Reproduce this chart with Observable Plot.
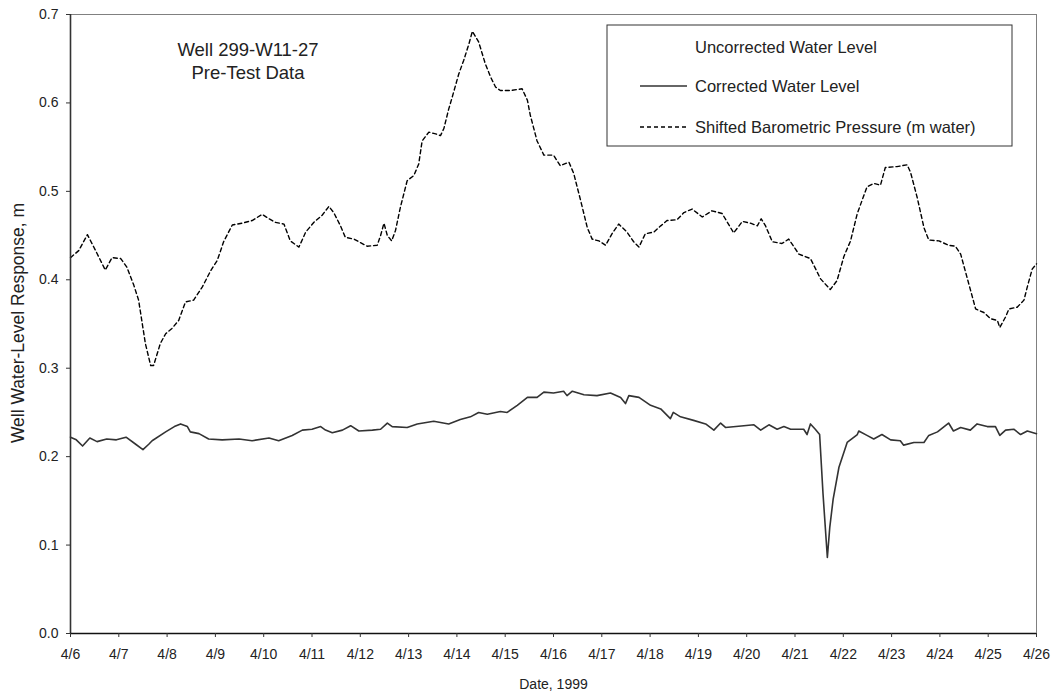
<!DOCTYPE html>
<html>
<head>
<meta charset="utf-8">
<script src="https://cdn.jsdelivr.net/npm/d3@7"></script>
<script src="https://cdn.jsdelivr.net/npm/@observablehq/plot@0.6"></script>
<style>
  html, body { margin: 0; padding: 0; background: #fff; }
  #chart { width: 1055px; height: 696px; }
</style>
</head>
<body>
<div id="chart"></div>
<script>
// ---- data (days since 4/6/1999, metres) ----
const xTickLabels = ["4/6","4/7","4/8","4/9","4/10","4/11","4/12","4/13","4/14","4/15","4/16","4/17","4/18","4/19","4/20","4/21","4/22","4/23","4/24","4/25","4/26"];
const yTicks = [0, 0.1, 0.2, 0.3, 0.4, 0.5, 0.6, 0.7];

const seriesNames = ["Uncorrected Water Level", "Corrected Water Level", "Shifted Barometric Pressure (m water)"];

const baroDays = [0,0.17,0.35,0.52,0.72,0.86,1.04,1.17,1.31,1.41,1.55,1.66,1.72,1.86,1.97,2.1,2.24,2.38,2.55,2.73,2.9,3.04,3.17,3.35,3.55,3.76,3.97,4.11,4.24,4.42,4.55,4.73,4.87,5.04,5.21,5.35,5.45,5.59,5.69,5.87,5.97,6.14,6.35,6.42,6.49,6.56,6.65,6.73,6.83,6.97,7.11,7.21,7.28,7.42,7.56,7.66,7.73,7.83,7.9,8.04,8.14,8.25,8.32,8.45,8.59,8.7,8.8,8.9,9.11,9.35,9.46,9.52,9.66,9.8,10.0,10.14,10.32,10.42,10.56,10.7,10.8,10.94,11.08,11.21,11.35,11.52,11.66,11.77,11.9,12.08,12.22,12.35,12.56,12.7,12.87,13.08,13.28,13.49,13.6,13.73,13.91,14.08,14.22,14.3,14.39,14.53,14.73,14.87,15.08,15.32,15.53,15.73,15.87,16.01,16.15,16.29,16.49,16.63,16.77,16.87,17.11,17.32,17.39,17.53,17.67,17.77,17.98,18.18,18.32,18.43,18.56,18.74,18.91,19.05,19.19,19.24,19.36,19.43,19.6,19.74,19.81,19.91,20.0];
const baroValues = [0.425,0.433,0.451,0.433,0.411,0.425,0.424,0.414,0.394,0.377,0.328,0.303,0.303,0.328,0.339,0.345,0.354,0.375,0.377,0.392,0.410,0.422,0.443,0.462,0.464,0.467,0.474,0.469,0.465,0.463,0.444,0.437,0.454,0.465,0.473,0.483,0.476,0.461,0.448,0.446,0.443,0.438,0.439,0.450,0.464,0.450,0.444,0.456,0.482,0.512,0.518,0.531,0.557,0.567,0.565,0.563,0.571,0.593,0.606,0.633,0.648,0.667,0.681,0.669,0.644,0.629,0.618,0.614,0.614,0.616,0.603,0.586,0.557,0.541,0.541,0.529,0.533,0.520,0.490,0.459,0.446,0.444,0.439,0.452,0.463,0.454,0.443,0.437,0.452,0.454,0.461,0.467,0.468,0.476,0.480,0.471,0.478,0.475,0.465,0.453,0.466,0.464,0.461,0.469,0.461,0.443,0.441,0.446,0.429,0.424,0.401,0.389,0.399,0.426,0.444,0.475,0.505,0.509,0.507,0.527,0.528,0.530,0.522,0.493,0.459,0.445,0.444,0.439,0.438,0.429,0.403,0.367,0.363,0.356,0.354,0.346,0.358,0.367,0.369,0.377,0.392,0.412,0.418];

const corrDays = [0,0.12,0.25,0.4,0.55,0.75,0.95,1.15,1.35,1.5,1.62,1.69,1.97,2.15,2.28,2.42,2.48,2.66,2.86,3.14,3.49,3.76,4.11,4.31,4.59,4.8,5.0,5.18,5.28,5.42,5.63,5.8,5.97,6.25,6.42,6.56,6.66,6.97,7.18,7.52,7.83,8.07,8.28,8.45,8.63,8.9,9.04,9.25,9.46,9.66,9.8,10.0,10.21,10.28,10.39,10.63,10.9,11.18,11.39,11.49,11.56,11.77,12.01,12.22,12.42,12.48,12.63,12.9,13.15,13.32,13.46,13.56,13.94,14.15,14.29,14.46,14.63,14.77,14.91,15.18,15.25,15.32,15.42,15.51,15.58,15.67,15.72,15.79,15.91,16.08,16.29,16.32,16.49,16.63,16.8,16.98,17.18,17.25,17.46,17.67,17.77,17.95,18.18,18.28,18.43,18.63,18.77,18.98,19.15,19.24,19.36,19.53,19.67,19.81,20.0];
const corrValues = [0.222,0.219,0.212,0.221,0.217,0.220,0.219,0.222,0.214,0.208,0.214,0.218,0.228,0.234,0.237,0.234,0.228,0.226,0.220,0.219,0.220,0.218,0.221,0.218,0.224,0.230,0.231,0.234,0.230,0.227,0.230,0.235,0.229,0.230,0.231,0.238,0.234,0.233,0.237,0.240,0.237,0.242,0.245,0.250,0.248,0.251,0.250,0.258,0.267,0.267,0.273,0.272,0.274,0.269,0.274,0.270,0.269,0.272,0.267,0.260,0.269,0.267,0.258,0.254,0.243,0.250,0.245,0.241,0.237,0.230,0.238,0.233,0.235,0.236,0.230,0.236,0.231,0.234,0.231,0.231,0.225,0.237,0.231,0.225,0.158,0.086,0.120,0.152,0.188,0.216,0.225,0.229,0.224,0.220,0.225,0.219,0.218,0.213,0.216,0.216,0.224,0.228,0.238,0.229,0.233,0.230,0.237,0.234,0.234,0.224,0.230,0.231,0.225,0.229,0.226];

// ---- build tables ----
const start = Date.UTC(1999, 3, 6);
const toDate = d => new Date(start + d * 864e5);
const baro = baroDays.map((d, i) => ({date: toDate(d), v: baroValues[i]}));
const corr = corrDays.map((d, i) => ({date: toDate(d), v: corrValues[i]}));
const tickDates = xTickLabels.map((_, i) => toDate(i));
const xDomain = [tickDates[0], tickDates[tickDates.length - 1]];

const FONT = "'Liberation Sans', Arial, Helvetica, sans-serif";

const chart = Plot.plot({
  width: 1055,
  height: 696,
  marginLeft: 70,
  marginRight: 19,
  marginTop: 14,
  marginBottom: 63,
  style: {fontFamily: FONT, fontSize: "14px", color: "#222", background: "#fff", overflow: "visible"},
  x: {type: "utc", domain: xDomain},
  y: {domain: [yTicks[0], yTicks[yTicks.length - 1]]},
  marks: [
    Plot.frame({stroke: "#808080", strokeWidth: 1}),
    Plot.lineY(corr, {x: "date", y: "v", stroke: "#333", strokeWidth: 1.6}),
    Plot.lineY(baro, {x: "date", y: "v", stroke: "#000", strokeWidth: 1.4, strokeDasharray: "4,3"}),
    Plot.ruleX([xDomain[0]], {stroke: "#333", strokeWidth: 1.6}),
    Plot.ruleY([yTicks[0]], {stroke: "#111", strokeWidth: 1.6}),
    Plot.axisX({
      ticks: tickDates,
      tickFormat: d => xTickLabels[Math.round((d - start) / 864e5)],
      tickSize: 4, tickPadding: 12, stroke: "#333",
      label: "Date, 1999", labelAnchor: "center", labelOffset: 55, labelArrow: "none"
    }),
    Plot.axisY({
      ticks: yTicks,
      tickFormat: d => d.toFixed(1),
      tickSize: 4, tickPadding: 8, stroke: "#333",
      label: null
    })
  ]
});

document.getElementById("chart").appendChild(chart);

// ---- y title, annotation + legend ----
const svg = d3.select(chart);
const g = svg.append("g").style("font-family", FONT).attr("fill", "#222");

g.append("text")
  .attr("transform", "translate(18,323) rotate(-90)")
  .attr("text-anchor", "middle").attr("dy", "0.35em")
  .style("font-size", "17.5px")
  .text("Well Water-Level Response, m");

const note = g.append("text").attr("text-anchor", "middle").style("font-size", "18.5px");
note.append("tspan").attr("x", 248).attr("y", 56).text("Well 299-W11-27");
note.append("tspan").attr("x", 248).attr("y", 79).text("Pre-Test Data");

g.append("rect").attr("x", 607).attr("y", 25).attr("width", 405).attr("height", 121)
  .attr("fill", "#fff").attr("stroke", "#333").attr("stroke-width", 1);

const rows = [
  {y: 47, stroke: "#fff", dash: null},
  {y: 86, stroke: "#333", dash: null},
  {y: 127, stroke: "#000", dash: "4,3"}
];
rows.forEach((r, i) => {
  g.append("line").attr("x1", 640).attr("x2", 687).attr("y1", r.y).attr("y2", r.y)
    .attr("stroke", r.stroke).attr("stroke-width", i === 1 ? 1.6 : 1.4)
    .attr("stroke-dasharray", r.dash);
  g.append("text").attr("x", 695).attr("y", r.y).attr("dy", "0.35em")
    .attr("text-anchor", "start")
    .style("font-size", "16.5px").text(seriesNames[i]);
});
</script>
</body>
</html>
